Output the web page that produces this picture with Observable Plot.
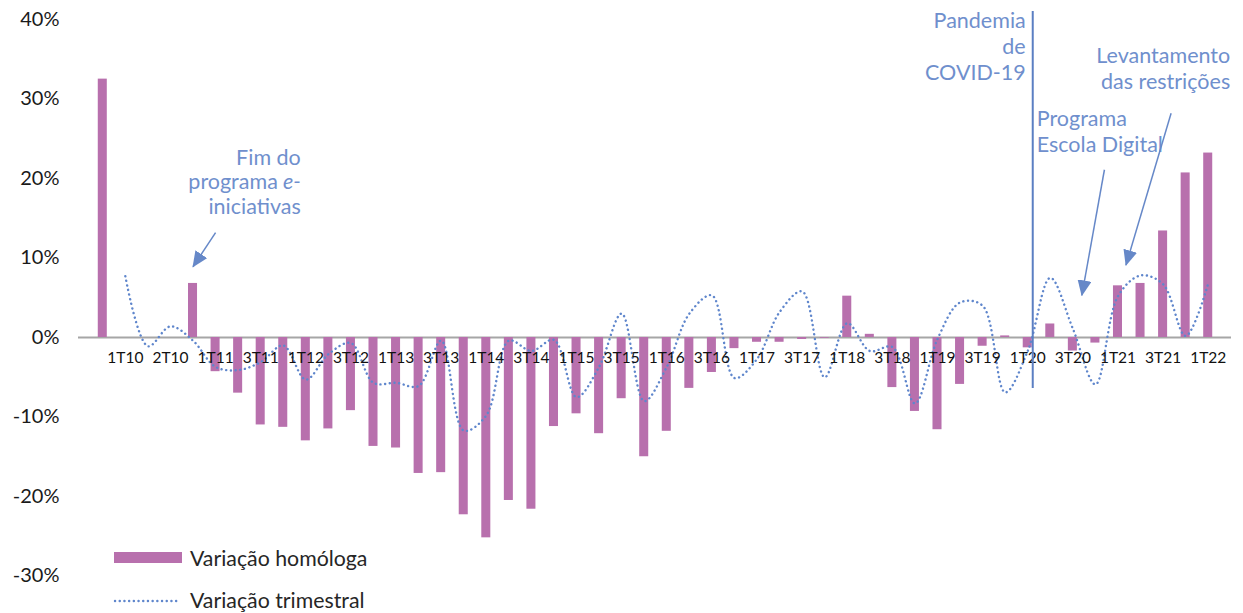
<!DOCTYPE html>
<html><head><meta charset="utf-8">
<script src="https://cdn.jsdelivr.net/npm/d3@7"></script>
<script src="https://cdn.jsdelivr.net/npm/@observablehq/plot@0.6"></script>
<style>
html,body{margin:0;padding:0;background:#fff;}
#wrap{position:relative;width:1243px;height:613px;font-family:Lato,"Noto Sans",sans-serif;}
#wrap svg{position:absolute;left:0;top:0;}
.leg{position:absolute;font-size:21.3px;color:#262626;line-height:24px;white-space:nowrap;}
</style></head><body><div id="wrap"></div>
<script>
// Categories (quarters) — one slot per quarter
const quarters = ["4T09","1T10","2T10","3T10","4T10","1T11","2T11","3T11","4T11","1T12","2T12","3T12","4T12",
  "1T13","2T13","3T13","4T13","1T14","2T14","3T14","4T14","1T15","2T15","3T15","4T15","1T16","2T16","3T16","4T16",
  "1T17","2T17","3T17","4T17","1T18","2T18","3T18","4T18","1T19","2T19","3T19","4T19","1T20","2T20","3T20","4T20",
  "1T21","2T21","3T21","4T21","1T22"];
// Tick labels as printed on the chart (every other quarter)
const tickQuarters = ["1T10","3T10","1T11","3T11","1T12","3T12","1T13","3T13","1T14","3T14","1T15","3T15","1T16",
  "3T16","1T17","3T17","1T18","3T18","1T19","3T19","1T20","3T20","1T21","3T21","1T22"];
const tickLabels = ["1T10","2T10","1T11","3T11","1T12","3T12","1T13","3T13","1T14","3T14","1T15","3T15","1T16",
  "3T16","1T17","3T17","1T18","3T18","1T19","3T19","1T20","3T20","1T21","3T21","1T22"];
// Variação homóloga (%)
const homologa = [32.5,null,null,null,6.8,-4.3,-7.0,-11.0,-11.3,-13.0,-11.5,-9.2,-13.7,-13.9,-17.1,-17.0,-22.3,-25.2,
  -20.5,-21.6,-11.2,-9.6,-12.1,-7.7,-15.0,-11.8,-6.4,-4.4,-1.4,-0.6,-0.6,-0.25,-0.1,5.2,0.4,-6.3,-9.3,-11.6,-5.9,-1.1,
  0.2,-1.3,1.7,-1.7,-0.7,6.5,6.8,13.4,20.7,23.2];
// Variação trimestral (%)
const trimestral = [null,7.7,-1.1,1.4,-0.4,-3.7,-4.1,-3.1,-1.0,-5.3,-2.1,-0.7,-5.7,-5.7,-6.1,-0.4,-11.7,-9.8,-0.4,-1.7,
  -0.3,-7.5,-3.7,3.0,-8.0,-3.7,3.0,5.3,-5.1,-2.7,3.2,5.8,-5.0,1.8,-1.7,-1.2,-8.3,-0.2,4.4,4.0,-6.9,-1.7,7.5,1.1,-5.9,
  5.2,7.8,6.7,0.2,6.8];
const yTicks = [-30,-20,-10,0,10,20,30,40];

const rows = quarters.map((q, i) => ({q, h: homologa[i], t: trimestral[i]}));
const ticks = tickQuarters.map((q, i) => ({q, label: tickLabels[i]}));

const annColor = "#6f8fcd";
const arrowColor = "#6688c8";
const lineColor = "#5f86cc";
const font = "Lato, 'Noto Sans', sans-serif";
const annSize = 21.5;
const annLH = 1.19;

const plot = Plot.plot({
  width: 1243, height: 613,
  marginLeft: 91, marginRight: 24, marginTop: 19, marginBottom: 37.5,
  style: {fontFamily: font, fontSize: "20px", color: "#1a1a1a", background: "transparent", overflow: "visible"},
  x: {type: "band", domain: quarters, paddingInner: 0.6, paddingOuter: 0.3, round: false, axis: null},
  y: {domain: [-30, 40], ticks: yTicks, tickSize: 0, tickPadding: 32, tickFormat: d => d + "%", label: null},
  marks: [
    Plot.ruleY([0], {stroke: "#a6a6a6", strokeWidth: 2, insetLeft: -13, insetRight: -12}),
    Plot.barY(rows.filter(d => d.h != null), {x: "q", y: "h", fill: "#b870ad"}),
    Plot.line(rows, {x: "q", y: "t", stroke: lineColor, strokeWidth: 2.4, strokeDasharray: "0.1 4.6", strokeLinecap: "round", curve: "catmull-rom"}),
    Plot.text(ticks, {x: "q", y: () => 0, text: "label", dy: 21, fontSize: 15.5, fill: "#111", fontFamily: font}),
    // COVID vertical line
    Plot.ruleX(["1T20"], {x: d => d, y1: 41, y2: -6.4, stroke: "#5b7fc3", strokeWidth: 2, dx: 5}),
    // Annotation: Fim do programa e-iniciativas
    Plot.text(["Fim do"], {x: () => "1T12", y: () => 22.6, text: d => d, textAnchor: "end", dx: -5, fontSize: annSize, fill: annColor, fontFamily: font}),
    Plot.text(["programa"], {x: () => "1T12", y: () => 19.5, text: d => d, textAnchor: "end", dx: -28, fontSize: annSize, fill: annColor, fontFamily: font}),
    Plot.text(["e-"], {x: () => "1T12", y: () => 19.5, text: d => d, textAnchor: "end", dx: -5, fontSize: annSize, fontStyle: "italic", fill: annColor, fontFamily: font}),
    Plot.text(["iniciativas"], {x: () => "1T12", y: () => 16.4, text: d => d, textAnchor: "end", dx: -5, fontSize: annSize, fill: annColor, fontFamily: font}),
    Plot.link([0], {x1: () => "1T11", y1: () => 13.2, x2: () => "4T10", y2: () => 8.9, stroke: arrowColor, strokeWidth: 1.5, className: "ann-arrow"}),
    // Pandemia de COVID-19
    Plot.text(["Pandemia\nde\nCOVID-19"], {x: () => "1T20", y: () => 36.7, text: d => d, textAnchor: "end", lineAnchor: "middle", lineHeight: annLH, dx: -2, fontSize: annSize, fill: annColor, fontFamily: font}),
    // Programa Escola Digital
    Plot.text(["Programa\nEscola Digital"], {x: () => "1T20", y: () => 26.0, text: d => d, textAnchor: "start", lineAnchor: "middle", lineHeight: annLH, dx: 9, fontSize: annSize, fill: annColor, fontFamily: font}),
    Plot.link([0], {x1: () => "4T20", y1: () => 21.1, x2: () => "3T20", y2: () => 5.3, dx: 9, stroke: arrowColor, strokeWidth: 1.5, className: "ann-arrow"}),
    // Levantamento das restrições
    Plot.text(["Levantamento\ndas restrições"], {x: () => "1T22", y: () => 33.9, text: d => d, textAnchor: "end", lineAnchor: "middle", lineHeight: annLH, dx: 22, fontSize: annSize, fill: annColor, fontFamily: font}),
    Plot.link([0], {x1: () => "3T21", y1: () => 28.2, x2: () => "1T21", y2: () => 9.1, dx: 8, stroke: arrowColor, strokeWidth: 1.5, className: "ann-arrow"})
  ]
});

const svg = d3.select(plot);
const marker = svg.append("defs").append("marker")
  .attr("id", "tri").attr("viewBox", "0 -7 16 14").attr("refX", 15).attr("refY", 0)
  .attr("markerWidth", 16).attr("markerHeight", 14).attr("markerUnits", "userSpaceOnUse").attr("orient", "auto");
marker.append("path").attr("d", "M0,-7L16,0L0,7Z").attr("fill", arrowColor);
svg.selectAll(".ann-arrow path").attr("marker-end", "url(#tri)");

const wrap = document.getElementById("wrap");
wrap.appendChild(plot);

// Legend (HTML, overlaid bottom-left)
const l1s = document.createElement("div");
l1s.style.cssText = "position:absolute;left:114px;top:552px;width:68px;height:11px;background:#b870ad;";
wrap.appendChild(l1s);
const l1t = document.createElement("div");
l1t.className = "leg"; l1t.style.left = "190px"; l1t.style.top = "546px"; l1t.textContent = "Variação homóloga";
wrap.appendChild(l1t);
const l2s = document.createElementNS("http://www.w3.org/2000/svg", "svg");
l2s.setAttribute("width", "70"); l2s.setAttribute("height", "6");
l2s.style.cssText = "position:absolute;left:113px;top:598px;";
l2s.innerHTML = '<line x1="2" y1="3" x2="66" y2="3" stroke="' + lineColor + '" stroke-width="2.4" stroke-dasharray="0.1 4.6" stroke-linecap="round"/>';
wrap.appendChild(l2s);
const l2t = document.createElement("div");
l2t.className = "leg"; l2t.style.left = "190px"; l2t.style.top = "588px"; l2t.textContent = "Variação trimestral";
wrap.appendChild(l2t);
</script></body></html>
